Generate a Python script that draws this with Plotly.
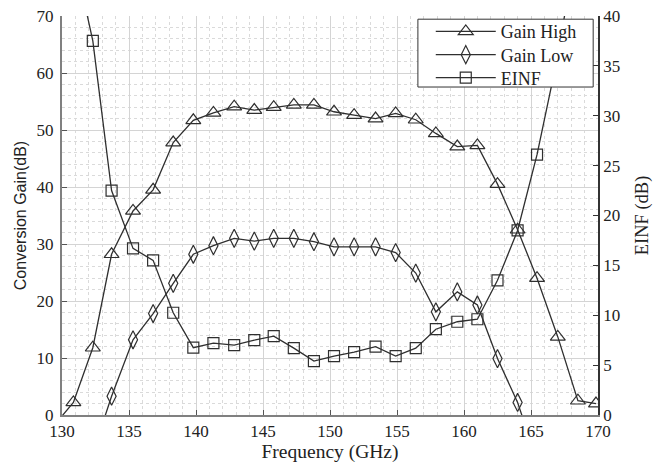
import plotly.graph_objects as go

# Frequency points (GHz) shared by all three measured series
freq = [129.35, 130.85, 132.3, 133.7, 135.3, 136.8, 138.3, 139.8, 141.3, 142.85,
        144.35, 145.8, 147.3, 148.8, 150.3, 151.8, 153.4, 154.9, 156.4, 157.9,
        159.5, 161.0, 162.5, 164.0, 165.45, 167.0, 168.5, 169.85]

gain_high = [-2.0, 2.2, 11.8, 28.2, 35.8, 39.5, 47.8, 51.7, 53.0, 54.1,
             53.5, 54.0, 54.4, 54.4, 53.2, 52.6, 52.0, 52.9, 51.8, 49.4,
             47.1, 47.3, 40.5, 32.5, 24.0, 13.7, 2.5, 2.0]

gain_low = [None, None, -6.7, 3.3, 13.2, 17.8, 23.1, 28.2, 29.7, 31.0,
            30.5, 31.0, 31.0, 30.4, 29.5, 29.5, 29.5, 28.5, 24.9, 18.1,
            21.6, 19.3, 9.9, 2.2, -8.0, None, None, None]

einf = [None, 46.4, 37.5, 22.5, 16.7, 15.5, 10.25, 6.75, 7.2, 7.0,
        7.5, 7.9, 6.7, 5.4, 5.9, 6.3, 6.85, 5.9, 6.7, 8.6,
        9.35, 9.6, 13.5, 18.5, 26.1, 36.0, 48.0, None]

SERIF = "'Liberation Serif', 'DejaVu Serif', 'Times New Roman', Times, serif"
SANS = "'Liberation Sans', Arial, sans-serif"
LINE = "#2f2f2f"

fig = go.Figure()
# EINF on the main (right-hand) axis, gains on the overlaid left-hand axis
fig.add_trace(go.Scatter(
    x=freq, y=gain_high, name="Gain High", mode="lines+markers", yaxis="y2", legend="legend",
    line=dict(color=LINE, width=1.3),
    marker=dict(symbol="triangle-up-open", size=13, color=LINE, line=dict(width=1.2, color=LINE)),
))
fig.add_trace(go.Scatter(
    x=freq, y=gain_low, name="Gain Low", mode="lines+markers", yaxis="y2", legend="legend2",
    line=dict(color=LINE, width=1.3),
    marker=dict(symbol="diamond-tall-open", size=13, color=LINE, line=dict(width=1.2, color=LINE)),
))
fig.add_trace(go.Scatter(
    x=freq, y=einf, name="EINF", mode="lines+markers", yaxis="y", legend="legend3",
    line=dict(color=LINE, width=1.3),
    marker=dict(symbol="square-open", size=11, color=LINE, line=dict(width=1.2, color=LINE)),
))

# legend frame
fig.add_shape(type="rect", xref="paper", yref="paper",
              x0=0.664, x1=0.991, y0=0.822, y1=0.992,
              fillcolor="white", line=dict(color="#333", width=1), layer="above")

leg_common = dict(
    xanchor="left", yanchor="middle", x=0.688,
    bgcolor="rgba(0,0,0,0)", borderwidth=0,
    font=dict(family=SERIF, size=18, color="#222"),
    itemwidth=60,
)

fig.update_layout(
    width=654, height=469,
    margin=dict(l=62, r=56, t=16, b=54),
    paper_bgcolor="white", plot_bgcolor="white",
    font=dict(family=SERIF, color="#222"),
    showlegend=True,
    legend=dict(y=0.9607, **leg_common),
    legend2=dict(y=0.9023, **leg_common),
    legend3=dict(y=0.8446, **leg_common),
    xaxis=dict(
        range=[130, 170], dtick=5, tick0=130, automargin=False,
        showline=True, linecolor="#808080", linewidth=2,
        ticks="inside", ticklen=5, tickcolor="#555",
        showgrid=True, gridcolor="#d4d4d4", gridwidth=1, zeroline=False,
        minor=dict(dtick=1, showgrid=True, gridcolor="#dadada", griddash="dot"),
        tickfont=dict(family=SERIF, size=17, color="#222"),
        ticklabelstandoff=0,
        title=dict(text="Frequency (GHz)", font=dict(family=SERIF, size=19.5, color="#222"), standoff=2),
    ),
    yaxis2=dict(
        range=[0, 70], dtick=10, automargin=False, overlaying="y", side="left",
        showline=True, linecolor="#808080", linewidth=2,
        ticks="inside", ticklen=5, tickcolor="#555",
        showgrid=True, gridcolor="#d4d4d4", gridwidth=1, zeroline=False,
        minor=dict(dtick=2, showgrid=True, gridcolor="#dadada", griddash="dot"),
        tickfont=dict(family=SERIF, size=17, color="#222"),
        ticklabelstandoff=3,
        title=dict(text="Conversion Gain(dB)", font=dict(family=SANS, size=16, color="#222"), standoff=6),
    ),
    yaxis=dict(
        range=[0, 40], dtick=5, side="right", automargin=False,
        showline=True, linecolor="#333", linewidth=1.5,
        ticks="inside", ticklen=5, tickcolor="#333",
        showgrid=False, zeroline=False,
        tickfont=dict(family=SERIF, size=17, color="#222"),
        title=dict(text="EINF (dB)", font=dict(family=SERIF, size=18.5, color="#222"), standoff=16),
    ),
)

fig.write_html("out.html", config={"displayModeBar": False},
               post_script="document.body.style.margin='0';")
